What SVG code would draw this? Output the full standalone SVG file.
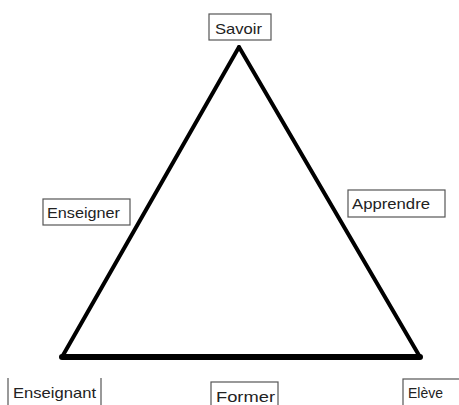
<svg xmlns="http://www.w3.org/2000/svg" width="459" height="405" viewBox="0 0 459 405">
<style>
.box{fill:#fff;stroke:#555;stroke-width:1.2}
.lbl{font-family:"Liberation Sans",Arial,sans-serif;font-size:15px;fill:#222}
.edge{stroke:#000;fill:none;stroke-linecap:round;stroke-linejoin:round}
</style>
<rect width="459" height="405" fill="#fff"/>
<g id="connectors">
<line class="edge" x1="239" y1="47" x2="62" y2="357" stroke-width="4"/>
<line class="edge" x1="239" y1="47" x2="420" y2="357" stroke-width="4"/>
<line class="edge" x1="62" y1="357" x2="420" y2="357" stroke-width="6"/>
</g>
<g id="savoir">
<rect class="box" x="209" y="14" width="62" height="26"/>
<text class="lbl" x="215" y="34" textLength="47" lengthAdjust="spacingAndGlyphs">Savoir</text>
</g>
<g id="enseigner">
<rect class="box" x="43" y="199" width="87" height="26"/>
<text class="lbl" x="47" y="218" textLength="73" lengthAdjust="spacingAndGlyphs">Enseigner</text>
</g>
<g id="apprendre">
<rect class="box" x="348" y="190" width="97" height="27"/>
<text class="lbl" x="352" y="209" textLength="78" lengthAdjust="spacingAndGlyphs">Apprendre</text>
</g>
<g id="enseignant">
<line class="box" x1="8" y1="378" x2="8" y2="405"/>
<line class="box" x1="101" y1="378" x2="101" y2="405"/>
<text class="lbl" x="13" y="398" textLength="83" lengthAdjust="spacingAndGlyphs">Enseignant</text>
</g>
<g id="former">
<rect class="box" x="211" y="382" width="67" height="30"/>
<text class="lbl" x="216" y="402" textLength="59" lengthAdjust="spacingAndGlyphs">Former</text>
</g>
<g id="eleve">
<rect class="box" x="403" y="379" width="70" height="30"/>
<text class="lbl" x="408" y="398" textLength="35" lengthAdjust="spacingAndGlyphs">Elève</text>
</g>
</svg>
